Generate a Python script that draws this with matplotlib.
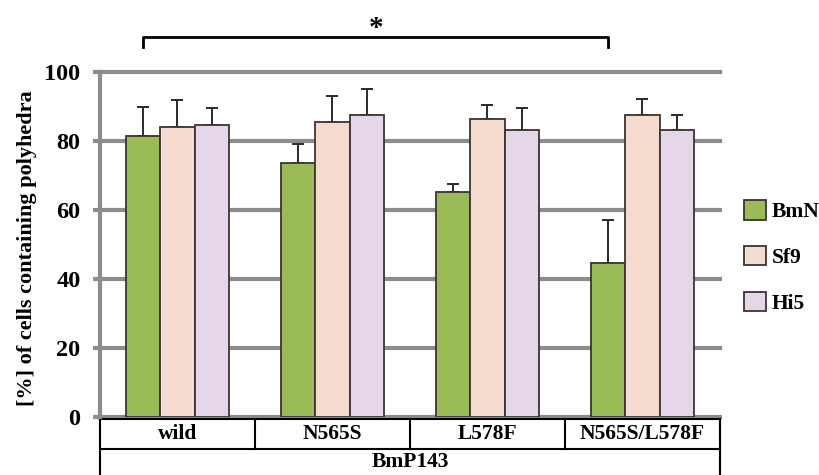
import numpy as np
import matplotlib
matplotlib.use("Agg")
from matplotlib import pyplot as plt
from matplotlib.patches import Patch
from matplotlib.transforms import blended_transform_factory

# data
groups = ["wild", "N565S", "L578F", "N565S/L578F"]
parent = "BmP143"
cells = ["BmN", "Sf9", "Hi5"]
bmn = [81.5, 73.5, 65.3, 44.5]
sf9 = [84.0, 85.5, 86.4, 87.4]
hi5 = [84.7, 87.4, 83.2, 83.2]
bmn_err = [8.4, 5.6, 2.2, 12.6]
sf9_err = [8.0, 7.5, 3.9, 4.9]
hi5_err = [4.9, 7.6, 6.4, 4.4]
yticks = [0, 20, 40, 60, 80, 100]

colors = ["#9bbb59", "#f5dace", "#e5d6ea"]
edge = "#3d3333"
grid_col = "#8c8c8c"

plt.rcParams['font.family'] = ['Liberation Serif', 'DejaVu Serif']
plt.rcParams['font.weight'] = 'bold'

fig = plt.figure(figsize=(8.2, 4.75), dpi=100)
W, H = 820, 475
ax = fig.add_axes([100 / W, (H - 417) / H, 620 / W, 345 / H])

x = np.arange(len(groups)) + 0.5
bw = 0.22
series = [bmn, sf9, hi5]
errs = [bmn_err, sf9_err, hi5_err]
for j, (vals, err) in enumerate(zip(series, errs)):
    pos = x + (j - 1) * bw
    ax.bar(pos, vals, bw, color=colors[j], edgecolor=edge, linewidth=1.3, zorder=3,
           label=cells[j])
    ax.errorbar(pos, vals, yerr=[np.zeros(len(err)), err], fmt='none', ecolor='#2a2a2a',
                elinewidth=1.4, capsize=4.5, capthick=1.4, zorder=2)

ax.set_xlim(0, len(groups))
ax.set_ylim(0, 100)
ax.set_yticks(yticks)
ax.set_xticks([])
ax.yaxis.grid(True, color=grid_col, linewidth=3, zorder=0)
for ln in ax.get_ygridlines():
    ln.set_clip_on(False)
for s in ["top", "right", "bottom"]:
    ax.spines[s].set_visible(False)
ax.spines["left"].set_color(grid_col)
ax.spines["left"].set_linewidth(3)
ax.tick_params(axis='y', length=5, width=3, color=grid_col, pad=9, labelsize=17.5)
for lab in ax.get_yticklabels():
    lab.set_fontweight('bold')

# category table under the axis
tr = blended_transform_factory(ax.transData, ax.transAxes)
row1_top = -2 / 345
row1_bot = -32 / 345
ax.plot([0, len(groups)], [row1_top, row1_top], color='black', lw=1.5, transform=tr, clip_on=False)
ax.plot([0, len(groups)], [row1_bot, row1_bot], color='black', lw=1.5, transform=tr, clip_on=False)
for b in range(len(groups) + 1):
    bottom = -0.2 if b in (0, len(groups)) else row1_bot
    ax.plot([b, b], [row1_top, bottom], color='black', lw=1.5, transform=tr, clip_on=False)
for xi, g in zip(x, groups):
    ax.text(xi, (row1_top + row1_bot) / 2, g, transform=tr, ha='center', va='center',
            fontsize=15.5, fontweight='bold')
ax.text(len(groups) / 2, -45 / 345, parent, transform=tr, ha='center', va='center',
        fontsize=15.5, fontweight='bold')

# significance bracket between BmN wild and BmN double mutant
x0, x1 = x[0] - bw, x[-1] - bw
ax.plot([x0, x0, x1, x1], [107.2, 110.1, 110.1, 107.2], color='black', lw=2, clip_on=False)
ax.text((x0 + x1) / 2, 112.5, "*", ha='center', va='center', fontsize=21, fontweight='bold')

fig.text(27 / W, 1 - 248 / H, "[%] of cells containing polyhedra", rotation=90,
         ha='center', va='center', fontsize=16, fontweight='bold')

handles = [Patch(facecolor=c, edgecolor=edge, linewidth=1.3) for c in colors]
fig.legend(handles, cells, loc='center left', bbox_to_anchor=(744 / W, 1 - 257 / H),
           frameon=False, prop={'size': 15.5, 'weight': 'bold'},
           handlelength=1.0, handleheight=1.0, handletextpad=0.3, labelspacing=1.1,
           borderpad=0, borderaxespad=0)

fig.savefig("out.png", dpi=100)
